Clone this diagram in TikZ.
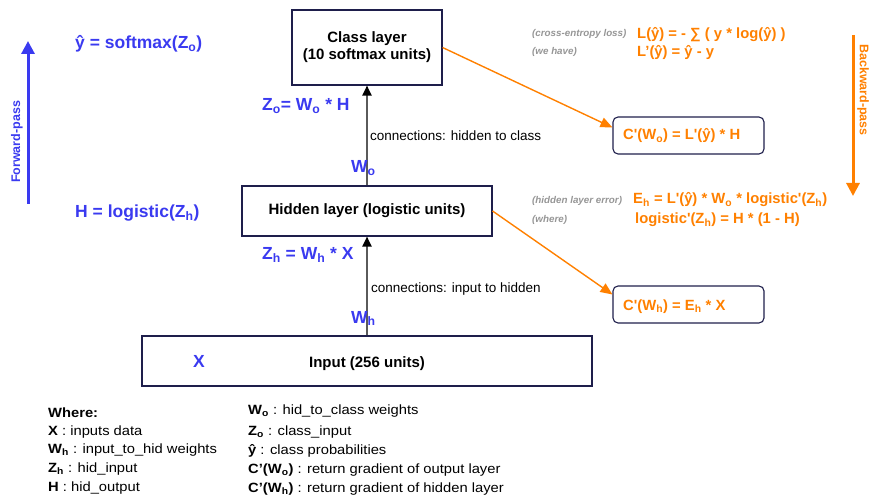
\documentclass[tikz,border=0pt]{standalone}
\usepackage{fontspec}
\setmainfont{Liberation Sans}[Ligatures=TeXOff]
\newfontfamily\legendfont{Liberation Sans}[Ligatures=TeXOff,FakeStretch=1.1]
\usetikzlibrary{arrows.meta}

\definecolor{fwdblue}{RGB}{58,58,240}
\definecolor{bwdorange}{RGB}{255,128,0}
\definecolor{notegray}{RGB}{150,150,150}
\definecolor{boxnavy}{RGB}{30,30,75}
\definecolor{linkgray}{RGB}{90,90,90}

\newcommand\sbs[1]{\textsubscript{#1}}

\tikzset{
  layer/.style={draw=boxnavy, line width=1.1pt, inner sep=0pt, align=center,
    font=\fontsize{15}{17}\selectfont\bfseries},
  gradbox/.style={draw=boxnavy, line width=1.1pt, rounded corners=5pt,
    minimum width=151pt, minimum height=37pt, inner sep=0pt},
  bluelbl/.style={text=fwdblue, font=\fontsize{17.5}{20}\selectfont\bfseries,
    anchor=base west, inner sep=0pt},
  orangelbl/.style={text=bwdorange, font=\fontsize{14.8}{17}\selectfont\bfseries,
    anchor=base west, inner sep=0pt},
  note/.style={text=notegray, font=\fontsize{9.8}{11}\selectfont\bfseries\itshape,
    anchor=base west, inner sep=0pt},
  conn/.style={font=\fontsize{13.5}{16}\selectfont, anchor=base west, inner sep=0pt},
  legend/.style={font=\legendfont\fontsize{13.4}{15}\selectfont,
    anchor=base west, inner sep=0pt},
  link/.style={draw=linkgray, line width=2pt,
    -{Triangle[length=10pt,width=9pt,color=black]}},
  gradlink/.style={draw=bwdorange, line width=1.4pt,
    -{Triangle[length=12pt,width=10pt]}},
  passarrow/.style={line width=3pt, -{Triangle[length=13pt,width=13pt]}},
  passlbl/.style={font=\fontsize{12.5}{15}\selectfont\bfseries, inner sep=0pt},
}

\begin{document}
\begin{tikzpicture}[x=1pt,y=-1pt]
\useasboundingbox (0,0) rectangle (873,497);

% network layers
\node[layer, minimum width=150pt, minimum height=75pt] (cls) at (367,47.5)
  {Class layer\\(10 softmax units)};
\node[layer, minimum width=250pt, minimum height=50pt] (hid) at (367,211)
  {Hidden layer (logistic units)};
\node[layer, minimum width=450pt, minimum height=50pt] (inp) at (367,361) {};
\node[layer, draw=none, anchor=base] (inptxt) at (367,367) {Input (256 units)};
\node[bluelbl, anchor=base] (xin) at (199,367) {X};

% connections between layers
\draw[link] (inp.north) -- (hid.south);
\draw[link] (hid.north) -- (cls.south);
\node[conn] (c1) at (370,141) {connections: hidden to class};
\node[conn] (c2) at (371,292) {connections: input to hidden};

% forward-pass expressions
\node[bluelbl] (yhat) at (75,49) {ŷ = softmax(Z\sbs{o})};
\node[bluelbl] (hout) at (75,218) {H = logistic(Z\sbs{h})};
\node[bluelbl] (zo) at (262,111) {Z\sbs{o}= W\sbs{o} * H};
\node[bluelbl] (zh) at (262,260) {Z\sbs{h} = W\sbs{h} * X};
\node[bluelbl] (wo) at (351,173) {W\sbs{o}};
\node[bluelbl] (wh) at (351,323) {W\sbs{h}};

% forward-pass arrow
\coordinate (f0) at (28,204);
\coordinate (f1) at (28,41);
\draw[passarrow, fwdblue] (f0) -- (f1);
\node[passlbl, text=fwdblue, rotate=90] (fwd) at (17,142) {Forward-pass};

% backward-pass arrow
\coordinate (b0) at (853,35);
\coordinate (b1) at (853,196);
\draw[passarrow, bwdorange] (b0) -- (b1);
\node[passlbl, text=bwdorange, rotate=-90] (bwd) at (863,90) {Backward-pass};

% loss and error terms
\node[note] (n1) at (532,37) {(cross-entropy loss)};
\node[note] (n2) at (532,55) {(we have)};
\node[orangelbl] (loss) at (637,39) {L(ŷ) = - ∑ ( y * log(ŷ) )};
\node[orangelbl] (dloss) at (637,57) {L’(ŷ) = ŷ - y};
\node[note] (n3) at (532,204) {(hidden layer error)};
\node[note] (n4) at (532,223) {(where)};
\node[orangelbl] (eh) at (633,204) {E\sbs{h} = L'(ŷ) * W\sbs{o} * logistic'(Z\sbs{h})};
\node[orangelbl] (dlog) at (635,224) {logistic'(Z\sbs{h}) = H * (1 - H)};

% gradient boxes
\node[gradbox] (cwo) at (688.5,135.5) {};
\node[orangelbl] (cwotxt) at (623,140) {C'(W\sbs{o}) = L'(ŷ) * H};
\node[gradbox] (cwh) at (688.5,304.5) {};
\node[orangelbl] (cwhtxt) at (623,310) {C'(W\sbs{h}) = E\sbs{h} * X};
\draw[gradlink] (cls.east) -- ([yshift=8pt]cwo.west);
\draw[gradlink] (hid.east) -- ([yshift=10pt]cwh.west);

% legend
\node[legend] (l1) at (48,417) {\bfseries Where:};
\node[legend] (l2) at (48,435) {\textbf{X} : inputs data};
\node[legend] (l3) at (48,453) {\textbf{W\sbs{h}} : input\_to\_hid weights};
\node[legend] (l4) at (48,472) {\textbf{Z\sbs{h}} : hid\_input};
\node[legend] (l5) at (48,491) {\textbf{H} : hid\_output};
\node[legend] (r1) at (248,414) {\textbf{W\sbs{o}} : hid\_to\_class weights};
\node[legend] (r2) at (248,435) {\textbf{Z\sbs{o}} : class\_input};
\node[legend] (r3) at (248,454) {\textbf{ŷ} : class probabilities};
\node[legend] (r4) at (248,473) {\textbf{C’(W\sbs{o})} : return gradient of output layer};
\node[legend] (r5) at (248,492) {\textbf{C’(W\sbs{h})} : return gradient of hidden layer};
\end{tikzpicture}
\end{document}
